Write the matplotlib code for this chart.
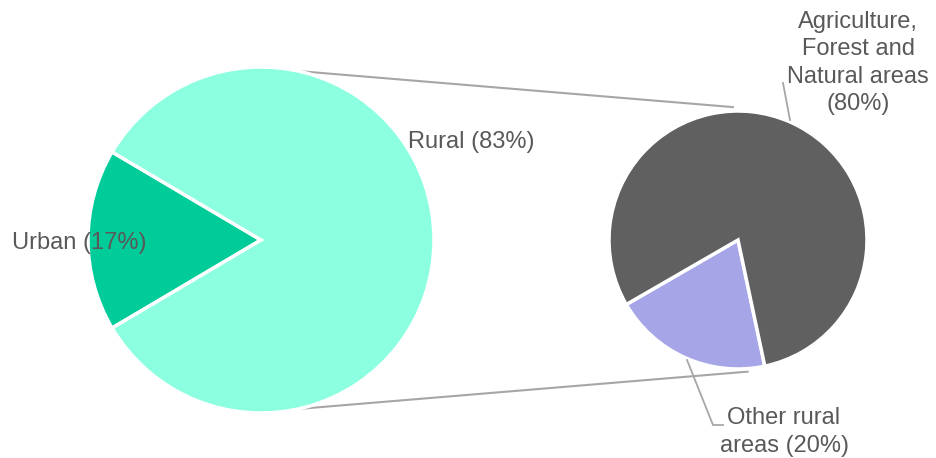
import matplotlib.pyplot as plt
import numpy as np

# data
main_labels = ['Urban (17%)', 'Rural (83%)']
main_vals = [17, 83]
main_colors = ['#00CC99', '#8CFFE0']

sub_labels = ['Other rural\nareas (20%)', 'Agriculture,\nForest and\nNatural areas\n(80%)']
sub_vals = [20, 80]
sub_colors = ['#A5A5E8', '#606060']

W, H = 936, 458
plt.rcParams['font.family'] = ['Liberation Sans', 'DejaVu Sans']
txt_col = '#595959'
line_col = '#A6A6A6'

fig = plt.figure(figsize=(W/100, H/100), dpi=100)
ax = fig.add_axes([0, 0, 1, 1])

# left pie (pixel coords, y flipped)
c1 = (261, H-240); r1 = 173
start1 = 180 - main_vals[0]/sum(main_vals)*360/2
ax.pie(main_vals, colors=main_colors, startangle=start1, counterclock=True,
       center=c1, radius=r1, frame=True,
       wedgeprops=dict(edgecolor='white', linewidth=2.5))

# right pie
c2 = (738, H-240); r2 = 129
ax.pie(sub_vals, colors=sub_colors, startangle=210, counterclock=True,
       center=c2, radius=r2, frame=True,
       wedgeprops=dict(edgecolor='white', linewidth=2.5))

# connector lines
def pt(c, r, a):
    return c[0] + r*np.cos(np.radians(a)), c[1] + r*np.sin(np.radians(a))

for a1, a2, r2b in [(77.6, 92.2, 133), (-77.6, -85.8, 132)]:
    p = pt(c1, r1, a1); q = pt(c2, r2b, a2)
    ax.plot([p[0], q[0]], [p[1], q[1]], color=line_col, lw=1.5, zorder=0)

# labels
ax.text(408, H-142, main_labels[1], fontsize=17, color=txt_col, ha='left', va='center')
ax.text(12, H-243, main_labels[0], fontsize=17, color=txt_col, ha='left', va='center')
ax.text(858, H-63, sub_labels[1], fontsize=17, color=txt_col, ha='center', va='center',
        linespacing=1.3)
ax.text(784, H-432, sub_labels[0], fontsize=17, color=txt_col, ha='center', va='center',
        linespacing=1.3)

# leader lines
ax.plot([790, 783], [H-120, H-83], color=line_col, lw=1.3)
ax.plot([687, 713, 723], [H-360, H-425, H-425], color=line_col, lw=1.3)

ax.set_xlim(0, W)
ax.set_ylim(0, H)
ax.set_aspect('equal')
ax.axis('off')

fig.savefig('out.png', dpi=100)
